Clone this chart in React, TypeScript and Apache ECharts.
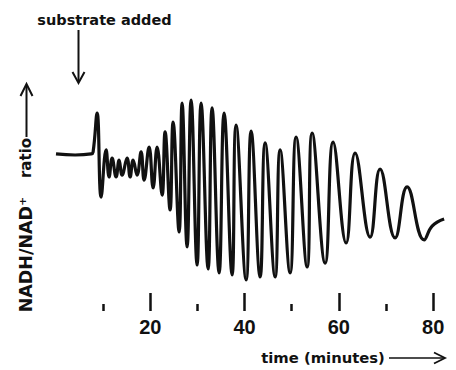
import React, { useEffect, useRef } from 'react';
import * as echarts from 'echarts';

const timeMin = [
  0, 4.05, 7.45, 7.87, 8.72, 9.57, 10.63, 11.26, 11.9, 12.75, 13.39, 14.02, 15.08, 15.72,
  16.36, 17.2, 18.05, 18.69, 19.75, 20.6, 21.45, 22.51, 23.14, 24.2, 24.84, 26.11, 26.75,
  27.81, 28.66, 29.93, 30.78, 32.27, 33.11, 34.6, 35.66, 37.36, 38.2, 40.33, 41.39, 43.3,
  44.36, 46.48, 47.54, 49.66, 50.93, 53.27, 54.33, 57.09, 58.78, 61.54, 63.45, 66.63,
  68.75, 71.93, 74.48, 78.09, 79.78, 82.33,
];
const ratio = [
  71.4, 70.9, 71.4, 72.3, 90.0, 51.8, 73.2, 60.9, 69.5, 60.9, 68.6, 61.8, 69.5, 60.9,
  68.6, 61.8, 72.3, 59.5, 74.5, 55.9, 74.5, 52.7, 81.4, 45.9, 85.9, 35.9, 94.5,
  29.1, 95.9, 20.9, 94.5, 19.1, 92.3, 17.3, 90.0, 16.4, 84.5, 14.1, 81.8, 15.5,
  76.4, 15.5, 73.2, 17.3, 79.1, 20.0, 80.9, 21.8, 76.8, 30.9, 71.8, 33.6,
  64.5, 33.2, 56.4, 32.3, 38.6, 41.8,
];
const majorTicks = [20, 40, 60, 80];
const minorTicks = [10, 30, 50, 70];

const INK = '#111';
const WORD_FONT = '"DejaVu Sans", sans-serif';

export default function App() {
  const ref = useRef<HTMLDivElement>(null);
  useEffect(() => {
    document.body.style.margin = '0';
    const chart = echarts.init(ref.current!, null, { renderer: 'svg' });
    const data = timeMin.map((t, i) => [t, ratio[i]]);
    chart.setOption({
      animation: false,
      backgroundColor: '#fff',
      grid: { left: 56, right: 4, top: 91, bottom: 59 },
      xAxis: [
        {
          type: 'value',
          min: 0,
          max: 84,
          position: 'bottom',
          axisLine: { show: false },
          splitLine: { show: false },
          axisTick: {
            show: true,
            inside: true,
            length: 18,
            customValues: majorTicks,
            lineStyle: { color: INK, width: 2.5 },
          },
          axisLabel: {
            show: true,
            customValues: majorTicks,
            margin: 6,
            color: INK,
            fontSize: 20,
            fontWeight: 'bold',
            fontFamily: '"Liberation Sans", Arial, sans-serif',
          },
        },
        {
          type: 'value',
          min: 0,
          max: 84,
          position: 'bottom',
          axisLine: { show: false },
          splitLine: { show: false },
          axisTick: {
            show: true,
            inside: true,
            length: 7,
            customValues: minorTicks,
            lineStyle: { color: INK, width: 2.5 },
          },
          axisLabel: { show: false },
        },
      ],
      yAxis: { type: 'value', min: 0, max: 100, show: false },
      series: [
        {
          type: 'line',
          xAxisIndex: 0,
          data,
          showSymbol: false,
          smooth: 0.45,
          lineStyle: { color: INK, width: 3.2 },
        },
      ],
      graphic: [
        {
          type: 'text',
          x: 104.5,
          y: 20,
          style: {
            text: 'substrate added',
            font: `bold 14.5px ${WORD_FONT}`,
            fill: INK,
            textAlign: 'center',
            textVerticalAlign: 'middle',
          },
        },
        {
          type: 'line',
          shape: { x1: 78.5, y1: 30, x2: 78.5, y2: 82 },
          style: { stroke: INK, lineWidth: 2 },
        },
        {
          type: 'polyline',
          shape: { points: [[72.5, 72], [78.5, 83], [84.5, 72]] },
          style: { stroke: INK, lineWidth: 2, fill: 'none' },
        },
        {
          type: 'text',
          x: 25.5,
          y: 254.5,
          rotation: Math.PI / 2,
          style: {
            text: 'NADH/NAD⁺',
            font: `bold 17.5px ${WORD_FONT}`,
            fill: INK,
            textAlign: 'center',
            textVerticalAlign: 'middle',
          },
        },
        {
          type: 'text',
          x: 25.5,
          y: 158,
          rotation: Math.PI / 2,
          style: {
            text: 'ratio',
            font: `bold 15px ${WORD_FONT}`,
            fill: INK,
            textAlign: 'center',
            textVerticalAlign: 'middle',
          },
        },
        {
          type: 'line',
          shape: { x1: 26.5, y1: 137, x2: 26.5, y2: 85 },
          style: { stroke: INK, lineWidth: 2 },
        },
        {
          type: 'polyline',
          shape: { points: [[20.5, 96], [26.5, 84], [32.5, 96]] },
          style: { stroke: INK, lineWidth: 2, fill: 'none' },
        },
        {
          type: 'text',
          x: 323,
          y: 357.5,
          style: {
            text: 'time (minutes)',
            font: `bold 14.8px ${WORD_FONT}`,
            fill: INK,
            textAlign: 'center',
            textVerticalAlign: 'middle',
          },
        },
        {
          type: 'line',
          shape: { x1: 389, y1: 358, x2: 444, y2: 358 },
          style: { stroke: INK, lineWidth: 1.5 },
        },
        {
          type: 'polyline',
          shape: { points: [[434, 352.5], [445, 358], [434, 363.5]] },
          style: { stroke: INK, lineWidth: 1.8, fill: 'none' },
        },
      ],
    });
    return () => chart.dispose();
  }, []);
  return <div ref={ref} style={{ width: 456, height: 370 }} />;
}
